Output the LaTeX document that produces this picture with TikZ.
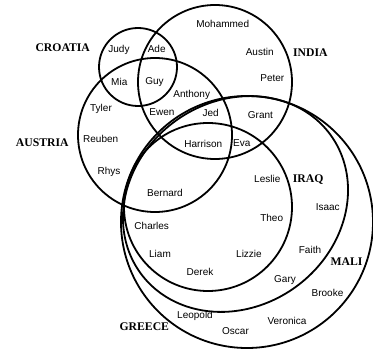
\documentclass[tikz,border=0pt]{standalone}
\usepackage{fontspec}
\setmainfont{Liberation Sans}
\newfontfamily\labelfont{Liberation Serif}
\begin{document}
\begin{tikzpicture}[x=1pt,y=-1pt,
  setline/.style={line width=1.8pt, line join=round},
  nm/.style={font=\fontsize{10}{12}\selectfont, inner sep=0pt, text height=7pt, text depth=0pt},
  lbl/.style={font=\labelfont\bfseries\fontsize{11.7}{13}\selectfont, inner sep=0pt, text height=7.8pt, text depth=0pt}]
\useasboundingbox (0,0) rectangle (373,350);
% sets
\draw[setline] (138,67) circle[radius=39pt];
\draw[setline] (215,82) circle[radius=77pt];
\draw[setline] (155,135) circle[radius=77pt];
\draw[setline] (208,207) circle[radius=84pt];
% MALI: tilted ellipse, major axis up-right (screen coordinates)
\draw[setline] plot[smooth cycle, domain=0:356, samples=90, variable=\t]
  ({235.5 + 117.5*cos(\t)*0.809 + 102.5*sin(\t)*0.5878},
   {204 - 117.5*cos(\t)*0.5878 + 102.5*sin(\t)*0.809});
% GREECE
\draw[setline] (247,222) circle[radius=126pt];
% set labels
\node[lbl] (croatia) at (62.7,47.3) {CROATIA};
\node[lbl] (india) at (310.3,52.3) {INDIA};
\node[lbl] (austria) at (42.2,142.7) {AUSTRIA};
\node[lbl] (iraq) at (308.2,178.3) {IRAQ};
\node[lbl] (mali) at (346.5,261.7) {MALI};
\node[lbl] (greece) at (144.3,326.7) {GREECE};
% names
\node[nm] (judy) at (119,49) {Judy};
\node[nm] (ade) at (156.7,49) {Ade};
\node[nm] (mia) at (119.3,82) {Mia};
\node[nm] (guy) at (154.5,81) {Guy};
\node[nm] (tyler) at (101,108.3) {Tyler};
\node[nm] (ewen) at (162,112) {Ewen};
\node[nm] (reuben) at (100.7,139.3) {Reuben};
\node[nm] (rhys) at (109,170.7) {Rhys};
\node[nm] (mohammed) at (222.7,24.3) {Mohammed};
\node[nm] (austin) at (259.7,51.7) {Austin};
\node[nm] (peter) at (272.3,78.3) {Peter};
\node[nm] (anthony) at (191.7,94) {Anthony};
\node[nm] (jed) at (210.7,113.3) {Jed};
\node[nm] (grant) at (260.4,115) {Grant};
\node[nm] (harrison) at (203.3,144) {Harrison};
\node[nm] (eva) at (241.7,143.2) {Eva};
\node[nm] (bernard) at (165,193.3) {Bernard};
\node[nm] (charles) at (151.7,226) {Charles};
\node[nm] (liam) at (160,254) {Liam};
\node[nm] (leslie) at (267.3,178.7) {Leslie};
\node[nm] (isaac) at (327.8,206.7) {Isaac};
\node[nm] (theo) at (271.7,217.7) {Theo};
\node[nm] (faith) at (310,250.5) {Faith};
\node[nm] (lizzie) at (249,254) {Lizzie};
\node[nm] (derek) at (200,272.3) {Derek};
\node[nm] (gary) at (285,278.8) {Gary};
\node[nm] (brooke) at (327.5,292.7) {Brooke};
\node[nm] (leopold) at (195,315) {Leopold};
\node[nm] (veronica) at (287,321.5) {Veronica};
\node[nm] (oscar) at (235.5,331.2) {Oscar};
\end{tikzpicture}
\end{document}
